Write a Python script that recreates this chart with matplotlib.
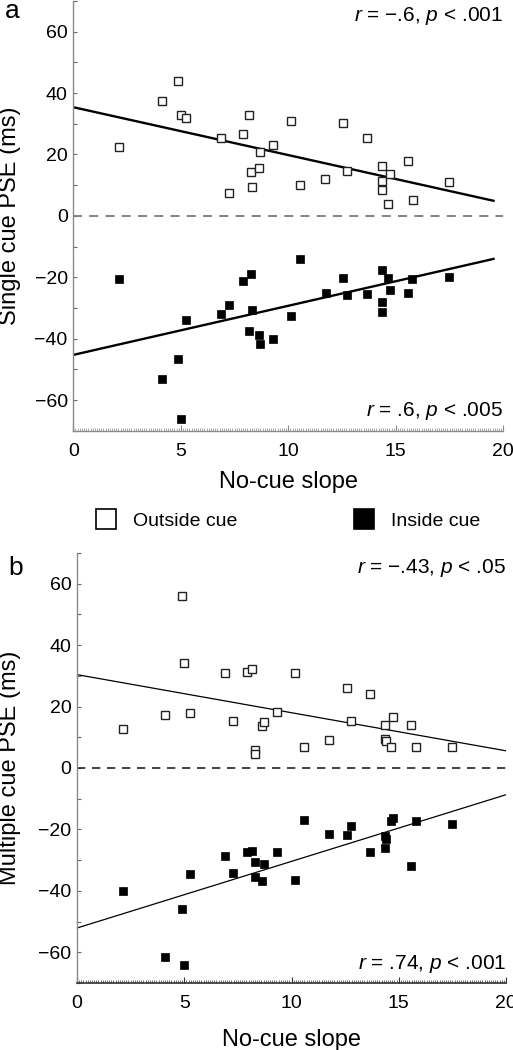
# Scatter of PSE vs no-cue slope, single cue (a) and multiple cue (b)
import numpy as np
import matplotlib
matplotlib.use("Agg")
import matplotlib.pyplot as plt
from matplotlib.lines import Line2D
from matplotlib.ticker import MultipleLocator

plt.rcParams["font.family"] = ["Liberation Sans", "DejaVu Sans"]
plt.rcParams["mathtext.fontset"] = "custom"
plt.rcParams["mathtext.rm"] = "Liberation Sans"
plt.rcParams["mathtext.it"] = "Liberation Sans:italic"

# -----------------------------
# Data
# -----------------------------
slope_a = [2.14, 4.11, 4.87, 5.01, 5.24, 6.87, 7.24, 7.89, 8.15, 8.26, 8.29, 8.65, 8.70, 9.30,
           10.11, 10.54, 11.72, 12.56, 12.73, 13.64, 14.34, 14.36, 14.37, 14.62, 14.73, 15.57,
           15.78, 17.49]
outside_a = [22.4, 37.5, 44.0, 32.8, 31.9, 25.3, 7.6, 26.8, 32.9, 14.2, 9.4, 15.5, 20.8, 23.0,
             30.9, 10.0, 12.1, 30.4, 14.5, 25.4, 16.3, 11.5, 8.5, 4.0, 13.6, 18.0, 5.2, 10.9]

slope_a_in = [2.14, 4.11, 4.87, 5.01, 5.24, 6.87, 7.24, 7.89, 8.17, 8.26, 8.29, 8.62, 8.70, 9.30,
              10.11, 10.56, 11.74, 12.56, 12.74, 13.64, 14.36, 14.36, 14.36, 14.64, 14.74, 15.55,
              15.76, 17.49]
inside_a = [-20.5, -53.3, -46.6, -66.3, -33.9, -31.9, -29.2, -21.2, -37.6, -19.0, -30.6, -38.9,
            -41.7, -40.1, -32.7, -14.0, -25.2, -20.1, -25.7, -25.6, -17.7, -28.0, -31.3, -20.2,
            -24.2, -25.0, -20.5, -19.9]

slope_b = [2.16, 4.12, 4.90, 5.01, 5.27, 6.89, 7.25, 7.92, 8.17, 8.31, 8.31, 8.63, 8.71, 9.33,
           10.14, 10.56, 11.75, 12.60, 12.77, 13.67, 14.37, 14.37, 14.41, 14.65, 14.74, 15.59,
           15.81, 17.48]
outside_b = [12.7, 17.4, 56.1, 34.2, 17.9, 30.8, 15.2, 31.1, 32.3, 5.7, 4.4, 13.6, 14.9, 18.1,
             30.8, 6.7, 9.1, 26.2, 15.3, 24.2, 14.1, 9.5, 8.7, 6.7, 16.6, 13.9, 6.9, 6.9]

slope_b_in = [2.16, 4.12, 4.90, 5.01, 5.27, 6.89, 7.25, 7.92, 8.17, 8.31, 8.31, 8.63, 8.71, 9.33,
              10.14, 10.56, 11.75, 12.60, 12.77, 13.67, 14.37, 14.41, 14.37, 14.65, 14.74, 15.59,
              15.81, 17.48]
inside_b = [-40.0, -61.4, -45.8, -64.3, -34.6, -28.8, -34.1, -27.5, -26.9, -30.7, -35.6, -36.7,
            -31.2, -27.5, -36.5, -16.8, -21.4, -21.9, -18.9, -27.3, -22.2, -23.1, -26.2, -17.1,
            -16.4, -31.8, -17.1, -18.2]

# regression lines: (intercept, slope, x end)
fit_a_out = (35.4, -1.56, 19.6)
fit_a_in = (-45.3, 1.60, 19.6)
fit_b_out = (30.4, -1.24, 20.0)
fit_b_in = (-52.1, 2.17, 20.0)

stats_a = ["$r$ = \u2212.6, $p$ < .001", "$r$ = .6, $p$ < .005"]
stats_b = ["$r$ = \u2212.43, $p$ < .05", "$r$ = .74, $p$ < .001"]


# -----------------------------
# Figure
# -----------------------------
W, H = 513, 1050
fig = plt.figure(figsize=(W / 100, H / 100), dpi=100)

ax_a = fig.add_axes([73.3 / W, 1 - 430.7 / H, 430 / W, 429.7 / H])
ax_b = fig.add_axes([77 / W, 1 - 983 / H, 429 / W, 430 / H])


def style_axis(ax, spine_col, line_w, xpad):
    ax.set_xlim(0, 20)
    ax.set_ylim(-70, 70)
    for s in ["top", "right"]:
        ax.spines[s].set_visible(False)
    ax.spines["left"].set_color("#8a8a8a")
    ax.spines["bottom"].set_color(spine_col)
    ax.spines["left"].set_linewidth(1.0)
    ax.spines["bottom"].set_linewidth(line_w)
    ax.xaxis.set_major_locator(MultipleLocator(5))
    ax.xaxis.set_minor_locator(MultipleLocator(0.1))
    ax.yaxis.set_major_locator(MultipleLocator(20))
    ax.yaxis.set_minor_locator(MultipleLocator(10))
    ax.tick_params(axis="y", which="both", direction="in", length=3, width=0.8,
                   color="#666666", labelsize=14, pad=4)
    ax.tick_params(axis="x", which="major", direction="in", length=4, width=0.8,
                   color=spine_col, labelsize=14, pad=9)
    ax.tick_params(axis="x", which="minor", direction="in", length=2.5, width=0.5,
                   color=spine_col)
    ax.set_xlabel("No-cue slope", fontsize=17, labelpad=xpad)


style_axis(ax_a, "#8a8a8a", 1.0, 8)
style_axis(ax_b, "#333333", 1.2, 12)

ax_a.set_ylabel("Single cue PSE (ms)", fontsize=17)
ax_b.set_ylabel("Multiple cue PSE (ms)", fontsize=17)
ax_a.yaxis.set_label_coords(-0.122, 0.5)
ax_b.yaxis.set_label_coords(-0.130, 0.5)

# zero lines
ax_a.axhline(0, color="#7a7a7a", lw=1.3, dashes=(5, 4))
ax_b.axhline(0, color="#222222", lw=1.2, dashes=(5, 4))

# regression lines
for ax, fit, lw in [(ax_a, fit_a_out, 1.7), (ax_a, fit_a_in, 1.7),
                    (ax_b, fit_b_out, 0.9), (ax_b, fit_b_in, 0.9)]:
    xs = np.array([0, fit[2]])
    ax.plot(xs, fit[0] + fit[1] * xs, color="black", lw=lw, solid_capstyle="butt",
            clip_on=False)

# points
ax_a.plot(slope_a, outside_a, "s", ms=5.2, mfc="white", mec="#222222", mew=1.0, ls="none")
ax_a.plot(slope_a_in, inside_a, "s", ms=5.8, mfc="black", mec="black", mew=0.5, ls="none")
ax_b.plot(slope_b, outside_b, "s", ms=5.2, mfc="white", mec="#222222", mew=1.0, ls="none")
ax_b.plot(slope_b_in, inside_b, "s", ms=5.8, mfc="black", mec="black", mew=0.5, ls="none")

# stats text
for ax, txt in [(ax_a, stats_a), (ax_b, stats_b)]:
    ax.text(1.0, 0.965, txt[0], transform=ax.transAxes, ha="right", va="center", fontsize=15)
    ax.text(1.0, 0.045, txt[1], transform=ax.transAxes, ha="right", va="center", fontsize=15)

# panel letters
fig.text(5 / W, 1 - 11 / H, "a", fontsize=19, ha="left", va="center")
fig.text(8 / W, 1 - 568 / H, "b", fontsize=19, ha="left", va="center")

# legend
handles = [
    Line2D([], [], marker="s", ls="none", ms=14, mfc="white", mec="black", mew=1.2),
    Line2D([], [], marker="s", ls="none", ms=14, mfc="black", mec="black", mew=1.2),
]
fig.legend(handles, ["Outside cue", "Inside cue"], loc="center",
           bbox_to_anchor=(287 / W, 1 - 521 / H), ncol=2, frameon=False,
           fontsize=14, columnspacing=5.9, handletextpad=0.8, handlelength=1.2)

fig.savefig("out.png", dpi=100)
